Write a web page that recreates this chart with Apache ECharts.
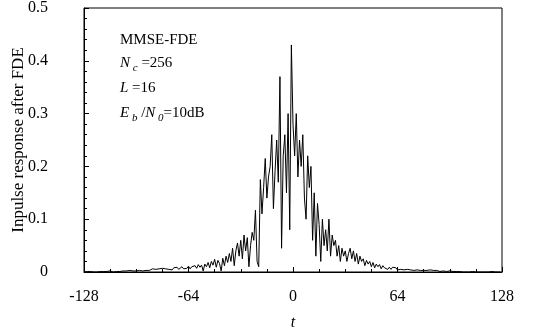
<!DOCTYPE html>
<html>
<head>
<meta charset="utf-8">
<script src="https://cdn.jsdelivr.net/npm/echarts@6/dist/echarts.min.js"></script>
<style>html,body{margin:0;padding:0;background:#fff}#c{width:552px;height:332px}</style>
</head>
<body>
<div id="c"></div>
<script>
// sample index t
var tStart = -128;
// impulse response values, t = -128 .. 127
var valsLeftTail = [0,0,0.001,0,0.001,0,0,0.001,0,0.001,0.001,0,0.001,0,0.001,0.001,0.002,0.001,0,0.001,0.001,0.002,0.001,0.001,0.002,0.001,0.002,0.001];
var valsM100 = [0.003,0.001,0.002,0.004,0.002,0.003,0.003,0.004,0.002,0.004,0.003,0.005,0.003,0.004,0.006,0.004,0.005,0.003,0.006,0.005];
var valsM80 = [0.007,0.004,0.006,0.008,0.005,0.007,0.004,0.008,0.006,0.009,0.005,0.008,0.01,0.006,0.009,0.007,0.011,0.006,0.01,0.008];
var valsM60 = [0.012,0.007,0.014,0.009,0.013,0.002,0.015,0.01,0.018,0.008,0.02,0.013,0.024,0.009,0.022,0.016,0.002,0.026,0.012,0.03];
var valsM40 = [0.018,0.035,0.02,0.045,0.012,0.04,0.055,0.03,0.06,0.025,0.07,0.04,0.065,0.01,0.05,0.075,0.06,0.117,0.02,0.01];
var valsM20 = [0.175,0.11,0.16,0.215,0.14,0.18,0.2,0.26,0.12,0.19,0.25,0.17,0.37,0.045,0.22,0.26,0.15,0.3,0.08,0.43];
var valsP0 = [0.28,0.22,0.3,0.18,0.25,0.2,0.26,0.14,0.1,0.22,0.16,0.2,0.06,0.15,0.03,0.13,0.09,0.02,0.1,0.05];
var valsP20 = [0.08,0.04,0.1,0.03,0.07,0.05,0.06,0.03,0.05,0.02,0.045,0.03,0.04,0.02,0.035,0.045,0.025,0.04,0.02,0.035];
var valsP40 = [0.015,0.03,0.02,0.025,0.012,0.022,0.015,0.02,0.01,0.018,0.008,0.015,0.01,0.014,0.006,0.012,0.008,0.01,0.005,0.009];
var valsP60 = [0.005,0.009,0.006,0.008,0.004,0.007,0.005,0.007,0.004,0.006,0.005,0.006,0.004,0.005,0.003,0.005,0.004,0.004,0.003,0.004];
var valsP80 = [0.003,0.004,0.003,0.002,0.004,0.002,0.003,0.002,0.003,0.002,0.001,0.002,0.002,0.001,0.001,0.001,0.002,0.001,0.001,0.001];
var valsRightTail = [0.001,0,0.001,0.001,0,0.001,0,0.001,0,0,0.001,0,0,0.001,0,0,0,0.001,0,0,0,0,0.001,0,0,0,0,0];
var xTicks = [-128, -64, 0, 64, 128];
var yTicks = [0, 0.1, 0.2, 0.3, 0.4, 0.5];

var values = [].concat(valsLeftTail, valsM100, valsM80, valsM60, valsM40, valsM20, valsP0, valsP20, valsP40, valsP60, valsP80, valsRightTail);
var seriesData = values.map(function (v, i) { return [tStart + i, v]; });

var font = '"Liberation Serif","Times New Roman",serif';
var fs = 16;
var lfs = 15;
var chart = echarts.init(document.getElementById('c'), null, {renderer: 'canvas'});
var rich = {
  i: {fontFamily: font, fontSize: lfs, fontStyle: 'italic', lineHeight: 20},
  s: {fontFamily: font, fontSize: 11, fontStyle: 'italic', lineHeight: 9, verticalAlign: 'bottom'},
  n: {fontFamily: font, fontSize: lfs, lineHeight: 20}
};
chart.setOption({
  animation: false,
  backgroundColor: '#fff',
  grid: {left: 84, right: 50, top: 8, bottom: 60, outerBoundsMode: 'none', containLabel: false,
    show: true, borderColor: '#000', borderWidth: 1, backgroundColor: 'transparent'},
  xAxis: {
    type: 'value', min: xTicks[0], max: xTicks[xTicks.length - 1], interval: 64,
    name: 't', nameLocation: 'middle', nameGap: 43, nameMoveOverlap: false,
    nameTextStyle: {fontFamily: font, fontSize: fs, fontStyle: 'italic', color: '#000'},
    axisLine: {onZero: false, lineStyle: {color: '#000', width: 1}},
    axisTick: {show: true, inside: true, length: 5, lineStyle: {color: '#000'}},
    minorTick: {show: true, splitNumber: 4, length: 3, lineStyle: {color: '#000'}},
    splitLine: {show: false},
    axisLabel: {fontFamily: font, fontSize: fs, color: '#000', margin: 17}
  },
  yAxis: {
    type: 'value', min: yTicks[0], max: yTicks[yTicks.length - 1], interval: 0.1,
    name: 'Inpulse response after FDE', nameLocation: 'middle', nameGap: 57, nameMoveOverlap: false,
    nameTextStyle: {fontFamily: font, fontSize: 17, color: '#000'},
    axisLine: {show: true, onZero: false, lineStyle: {color: '#000', width: 1}},
    axisTick: {show: true, inside: true, length: 5, lineStyle: {color: '#000'}},
    minorTick: {show: true, splitNumber: 5, length: 3, lineStyle: {color: '#000'}},
    splitLine: {show: false},
    axisLabel: {fontFamily: font, fontSize: fs, color: '#000', margin: 36,
      formatter: function (v) { return v === 0 ? '0' : v.toFixed(1); }}
  },
  graphic: [
    {type: 'text', left: 120, top: 33, style: {text: '{n|MMSE-FDE}', fill: '#000', rich: rich}},
    {type: 'text', left: 120, top: 56, style: {text: '{i|N}{s| c}{n| =256}', fill: '#000', rich: rich}},
    {type: 'text', left: 120, top: 81, style: {text: '{i|L}{n| =16}', fill: '#000', rich: rich}},
    {type: 'text', left: 120, top: 106, style: {text: '{i|E}{s| b}{n| /}{i|N}{s| 0}{n|=10dB}', fill: '#000', rich: rich}}
  ],
  series: [{
    type: 'line', data: seriesData, showSymbol: false, symbol: 'none',
    lineStyle: {color: '#000', width: 1}, clip: true
  }]
});
</script>
</body>
</html>
